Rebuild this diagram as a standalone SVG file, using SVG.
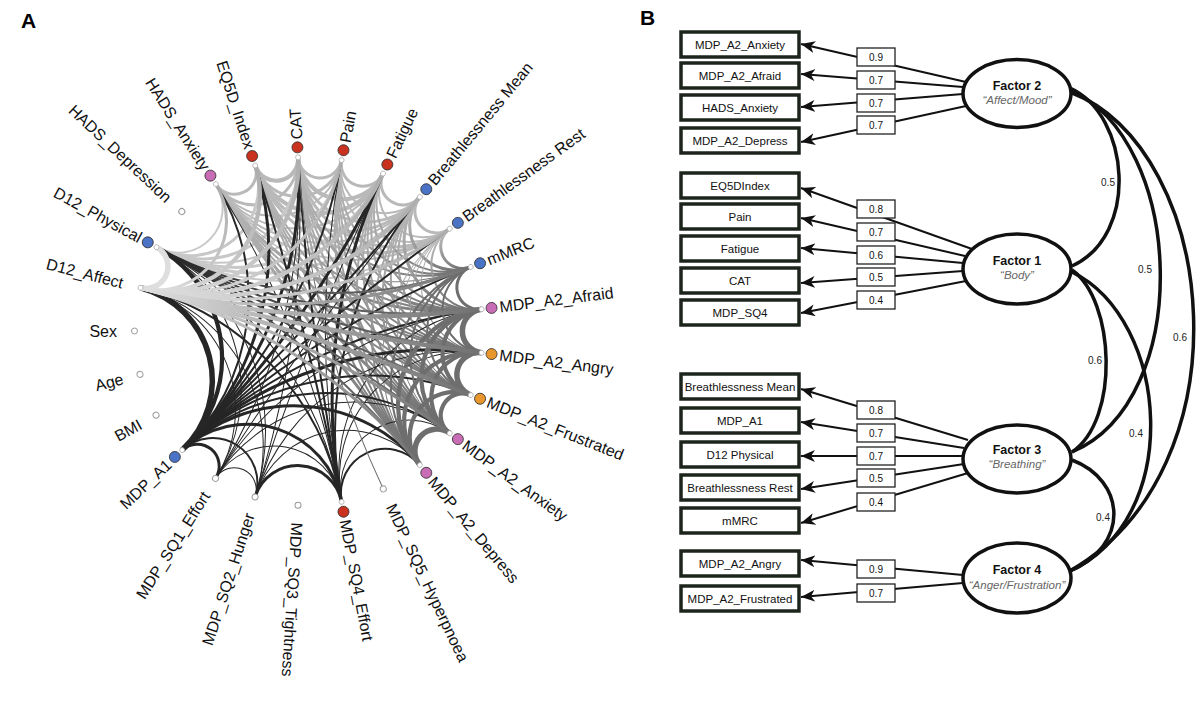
<svg xmlns="http://www.w3.org/2000/svg" width="1200" height="702" viewBox="0 0 1200 702">
<style>
.lbl{font-family:"Liberation Sans",Arial,sans-serif;font-size:16px;fill:#111;dominant-baseline:central}
.end{text-anchor:end}
.pl{font-family:"Liberation Sans",Arial,sans-serif;font-size:21px;font-weight:bold;fill:#000}
.anc{fill:#fff;stroke:#b0b0b0;stroke-width:0.8}
.hol{fill:#fff;stroke:#9a9a9a;stroke-width:1}
.dot{stroke:#333;stroke-width:0.8}
.red{fill:#c8321e}.blue{fill:#4a73c6}.pink{fill:#c96cb6}.orange{fill:#e8972c}
.w1{stroke-width:1}.w2{stroke-width:2}.w3{stroke-width:3}.w4{stroke-width:4.2}.w5{stroke-width:5.5}
.a{stroke:#262626}.b{stroke:#6e6e6e}.c{stroke:#b9b9b9}.c2{stroke:#c8c8c8}.d{stroke:#dedede}
.gCB{stroke:url(#gCB)}.gDC{stroke:url(#gDC)}.gDB{stroke:url(#gDB)}.gBD{stroke:url(#gBD)}.gKB{stroke:url(#gKB)}.gBK{stroke:url(#gBK)}
.box{fill:#fff;stroke:#1c241c;stroke-width:3.5}
.bt{font-family:"Liberation Sans",Arial,sans-serif;font-size:11.5px;text-anchor:middle;fill:#111}
.vb{fill:#fff;stroke:#222;stroke-width:1.3}
.vt{font-family:"Liberation Sans",Arial,sans-serif;font-size:10px;text-anchor:middle;fill:#111}
.ld{fill:none;stroke:#111;stroke-width:2;marker-end:url(#arr)}
.fac{fill:#fff;stroke:#111;stroke-width:3.5}
.ft{font-family:"Liberation Sans",Arial,sans-serif;font-size:12.5px;font-weight:bold;text-anchor:middle;fill:#111}
.fs{font-family:"Liberation Sans",Arial,sans-serif;font-size:11.5px;font-style:italic;text-anchor:middle;fill:#666}
.cor{fill:none;stroke:#111;stroke-width:3.5}
.ct{font-family:"Liberation Sans",Arial,sans-serif;font-size:10px;text-anchor:middle;fill:#222}
</style>
<defs>
<linearGradient id="gCB" x1="0" y1="0" x2="0" y2="1"><stop offset="0" stop-color="#bcbcbc"/><stop offset="1" stop-color="#6e6e6e"/></linearGradient>
<linearGradient id="gDC" x1="0" y1="0" x2="0" y2="1"><stop offset="0" stop-color="#e0e0e0"/><stop offset="1" stop-color="#adadad"/></linearGradient>
<linearGradient id="gDB" x1="0" y1="0" x2="0" y2="1"><stop offset="0" stop-color="#e0e0e0"/><stop offset="1" stop-color="#707070"/></linearGradient>
<linearGradient id="gBD" x1="0" y1="0" x2="0" y2="1"><stop offset="0" stop-color="#707070"/><stop offset="1" stop-color="#e0e0e0"/></linearGradient>
<linearGradient id="gKB" x1="0" y1="0" x2="0" y2="1"><stop offset="0" stop-color="#222"/><stop offset="1" stop-color="#808080"/></linearGradient>
<linearGradient id="gBK" x1="0" y1="0" x2="0" y2="1"><stop offset="0" stop-color="#808080"/><stop offset="1" stop-color="#222"/></linearGradient>
<path id="d1" fill="none" d="M172.63,-21.81 A21.98,21.98 0 0 0 172.63,21.81"/>
<path id="d2" fill="none" d="M168.53,-43.27 A44.68,44.68 0 0 0 168.53,43.27"/>
<path id="d3" fill="none" d="M161.78,-64.05 A68.89,68.89 0 0 0 161.78,64.05"/>
<path id="d4" fill="none" d="M152.48,-83.82 A95.66,95.66 0 0 0 152.48,83.82"/>
<path id="d5" fill="none" d="M140.77,-102.28 A126.42,126.42 0 0 0 140.77,102.28"/>
<path id="d6" fill="none" d="M126.84,-119.11 A163.4,163.4 0 0 0 126.84,119.11"/>
<path id="d7" fill="none" d="M110.91,-134.07 A210.33,210.33 0 0 0 110.91,134.07"/>
<path id="d8" fill="none" d="M93.23,-146.91 A274.18,274.18 0 0 0 93.23,146.91"/>
<path id="d9" fill="none" d="M74.09,-157.44 A369.77,369.77 0 0 0 74.09,157.44"/>
<path id="d10" fill="none" d="M53.77,-165.48 A535.52,535.52 0 0 0 53.77,165.48"/>
<path id="d11" fill="none" d="M32.6,-170.92 A912.14,912.14 0 0 0 32.6,170.92"/>
<path id="d12" fill="none" d="M10.93,-173.66 A2765.6,2765.6 0 0 0 10.93,173.66"/>
<marker id="arr" markerUnits="userSpaceOnUse" markerWidth="15" markerHeight="12" refX="14" refY="6" orient="auto"><path d="M0,0 L14,6 L0,12 L4,6 z" fill="#111"/></marker>
</defs>
<rect width="1200" height="702" fill="#fff"/>
<text class="pl" x="21" y="28">A</text>
<text class="pl" x="640" y="25">B</text>

<g id="edges" transform="translate(309 331)" fill="none">
<use href="#d1" transform="rotate(-115.2)" class="c w3"/>
<use href="#d1" transform="rotate(-100.8)" class="c w4"/>
<use href="#d1" transform="rotate(-86.4)" class="c w3"/>
<use href="#d1" transform="rotate(-72)" class="c w3"/>
<use href="#d1" transform="rotate(-57.6)" class="c w3"/>
<use href="#d1" transform="rotate(-43.2)" class="c w3"/>
<use href="#d2" transform="rotate(-108)" class="c w3"/>
<use href="#d2" transform="rotate(-93.6)" class="c w3"/>
<use href="#d2" transform="rotate(-79.2)" class="c w4"/>
<use href="#d2" transform="rotate(-64.8)" class="c w2"/>
<use href="#d2" transform="rotate(-50.4)" class="c w2"/>
<use href="#d3" transform="rotate(-100.8)" class="c w2"/>
<use href="#d3" transform="rotate(-86.4)" class="c w4"/>
<use href="#d3" transform="rotate(-72)" class="c w3"/>
<use href="#d3" transform="rotate(-57.6)" class="c w2"/>
<use href="#d4" transform="rotate(-93.6)" class="c w2"/>
<use href="#d4" transform="rotate(-79.2)" class="c w3"/>
<use href="#d4" transform="rotate(-64.8)" class="c w3"/>
<use href="#d5" transform="rotate(-86.4)" class="c w2"/>
<use href="#d5" transform="rotate(-72)" class="c w3"/>
<use href="#d6" transform="rotate(-79.2)" class="c w2"/>

<use href="#d2" transform="rotate(-136.8)" class="c2 w2"/>
<use href="#d3" transform="rotate(-129.6)" class="c2 w3"/>
<use href="#d4" transform="rotate(-122.4)" class="c2 w3"/>
<use href="#d5" transform="rotate(-115.2)" class="c2 w2"/>
<use href="#d6" transform="rotate(-108)" class="c2 w3"/>
<use href="#d7" transform="rotate(-100.8)" class="c2 w3"/>
<use href="#d8" transform="rotate(-93.6)" class="c2 w2"/>

<use href="#d1" transform="rotate(-28.8)" class="gCB w3"/>
<use href="#d2" transform="rotate(-36)" class="gCB w3"/>
<use href="#d3" transform="rotate(-43.2)" class="gCB w2"/>
<use href="#d4" transform="rotate(-50.4)" class="gCB w2"/>
<use href="#d5" transform="rotate(-57.6)" class="gCB w2"/>
<use href="#d7" transform="rotate(-72)" class="gCB w1"/>
<use href="#d2" transform="rotate(-21.6)" class="gCB w2"/>
<use href="#d3" transform="rotate(-28.8)" class="gCB w3"/>
<use href="#d4" transform="rotate(-36)" class="gCB w2"/>
<use href="#d5" transform="rotate(-43.2)" class="gCB w2"/>
<use href="#d6" transform="rotate(-50.4)" class="gCB w3"/>
<use href="#d7" transform="rotate(-57.6)" class="gCB w2"/>
<use href="#d8" transform="rotate(-64.8)" class="gCB w3"/>
<use href="#d3" transform="rotate(-14.4)" class="gCB w1"/>
<use href="#d4" transform="rotate(-21.6)" class="gCB w2"/>
<use href="#d5" transform="rotate(-28.8)" class="gCB w2"/>
<use href="#d6" transform="rotate(-36)" class="gCB w2"/>
<use href="#d7" transform="rotate(-43.2)" class="gCB w2"/>
<use href="#d8" transform="rotate(-50.4)" class="gCB w2"/>
<use href="#d9" transform="rotate(-57.6)" class="gCB w2"/>
<use href="#d4" transform="rotate(-7.2)" class="gCB w1"/>
<use href="#d5" transform="rotate(-14.4)" class="gCB w2"/>
<use href="#d6" transform="rotate(-21.6)" class="gCB w2"/>
<use href="#d7" transform="rotate(-28.8)" class="gCB w2"/>
<use href="#d8" transform="rotate(-36)" class="gCB w2"/>
<use href="#d9" transform="rotate(-43.2)" class="gCB w2"/>
<use href="#d10" transform="rotate(-50.4)" class="gCB w2"/>
<use href="#d5" transform="rotate(0)" class="gCB w1"/>
<use href="#d6" transform="rotate(-7.2)" class="gCB w2"/>
<use href="#d7" transform="rotate(-14.4)" class="gCB w2"/>
<use href="#d8" transform="rotate(-21.6)" class="gCB w2"/>
<use href="#d9" transform="rotate(-28.8)" class="gCB w2"/>
<use href="#d10" transform="rotate(-36)" class="gCB w2"/>
<use href="#d11" transform="rotate(-43.2)" class="gCB w3"/>
<use href="#d6" transform="rotate(7.2)" class="gCB w1"/>
<use href="#d7" transform="rotate(0)" class="gCB w2"/>
<use href="#d8" transform="rotate(-7.2)" class="gCB w2"/>
<use href="#d9" transform="rotate(-14.4)" class="gCB w2"/>
<use href="#d10" transform="rotate(-21.6)" class="gCB w2"/>
<use href="#d11" transform="rotate(-28.8)" class="gCB w2"/>
<use href="#d12" transform="rotate(-36)" class="gCB w3"/>

<use href="#d1" transform="rotate(129.6)" class="a w3"/>
<use href="#d2" transform="rotate(122.4)" class="a w2"/>
<use href="#d4" transform="rotate(108)" class="a w3"/>
<use href="#d1" transform="rotate(115.2)" class="a w1"/>
<use href="#d3" transform="rotate(100.8)" class="a w1"/>
<use href="#d2" transform="rotate(93.6)" class="a w3"/>
<use href="#d6" transform="rotate(93.6)" class="a w3"/>
<use href="#d7" transform="rotate(86.4)" class="a w2"/>
<use href="#d8" transform="rotate(79.2)" class="a w2"/>
<use href="#d9" transform="rotate(72)" class="a w3"/>
<use href="#d10" transform="rotate(64.8)" class="a w2"/>
<use href="#d11" transform="rotate(57.6)" class="a w2"/>
<use href="#d12" transform="rotate(50.4)" class="a w2"/>
<use href="#d12" transform="rotate(223.2)" class="a w2"/>
<use href="#d11" transform="rotate(216)" class="a w3"/>
<use href="#d10" transform="rotate(208.8)" class="a w2"/>
<use href="#d9" transform="rotate(201.6)" class="a w3"/>
<use href="#d8" transform="rotate(194.4)" class="a w3"/>
<use href="#d7" transform="rotate(187.2)" class="a w2"/>
<use href="#d5" transform="rotate(172.8)" class="a w4"/>
<use href="#d4" transform="rotate(165.6)" class="a w5"/>
<use href="#d2" transform="rotate(64.8)" class="a w2"/>
<use href="#d3" transform="rotate(57.6)" class="a w1"/>
<use href="#d5" transform="rotate(43.2)" class="a w1"/>
<use href="#d6" transform="rotate(36)" class="a w1"/>
<use href="#d9" transform="rotate(14.4)" class="a w2"/>
<use href="#d10" transform="rotate(7.2)" class="a w3"/>
<use href="#d11" transform="rotate(0)" class="a w1"/>
<use href="#d12" transform="rotate(-7.2)" class="a w2"/>
<use href="#d12" transform="rotate(165.6)" class="a w2"/>
<use href="#d11" transform="rotate(158.4)" class="a w1"/>
<use href="#d9" transform="rotate(144)" class="a w1"/>
<use href="#d8" transform="rotate(136.8)" class="a w2"/>
<use href="#d6" transform="rotate(79.2)" class="a w1"/>
<use href="#d9" transform="rotate(57.6)" class="a w1"/>
<use href="#d12" transform="rotate(36)" class="a w1"/>
<use href="#d10" transform="rotate(194.4)" class="a w1"/>
<use href="#d6" transform="rotate(165.6)" class="a w1"/>
<use href="#d5" transform="rotate(158.4)" class="a w1"/>
<use href="#d4" transform="rotate(79.2)" class="a w1"/>
<use href="#d7" transform="rotate(57.6)" class="a w1"/>
<use href="#d12" transform="rotate(21.6)" class="a w1"/>
<use href="#d11" transform="rotate(187.2)" class="a w1"/>
<use href="#d7" transform="rotate(158.4)" class="a w1"/>
<use href="#d6" transform="rotate(151.2)" class="a w1"/>
<use href="#d11" transform="rotate(-14.4)" class="b w1"/>

<use href="#d1" transform="rotate(-14.4)" class="b w3"/>
<use href="#d1" transform="rotate(0)" class="b w5"/>
<use href="#d1" transform="rotate(14.4)" class="b w5"/>
<use href="#d1" transform="rotate(28.8)" class="b w4"/>
<use href="#d1" transform="rotate(43.2)" class="b w5"/>
<use href="#d2" transform="rotate(-7.2)" class="b w2"/>
<use href="#d2" transform="rotate(7.2)" class="b w4"/>
<use href="#d2" transform="rotate(21.6)" class="b w4"/>
<use href="#d2" transform="rotate(36)" class="b w4"/>
<use href="#d3" transform="rotate(0)" class="b w2"/>
<use href="#d3" transform="rotate(14.4)" class="b w4"/>
<use href="#d3" transform="rotate(28.8)" class="b w4"/>
<use href="#d4" transform="rotate(7.2)" class="b w2"/>
<use href="#d4" transform="rotate(21.6)" class="b w4"/>
<use href="#d5" transform="rotate(14.4)" class="b w2"/>

<use href="#d9" transform="rotate(-86.4)" class="gKB w2"/>
<use href="#d10" transform="rotate(-79.2)" class="gKB w2"/>
<use href="#d11" transform="rotate(-72)" class="gKB w2"/>
<use href="#d12" transform="rotate(-64.8)" class="gKB w2"/>
<use href="#d12" transform="rotate(122.4)" class="gBK w2"/>
<use href="#d11" transform="rotate(129.6)" class="gBK w2"/>

<use href="#d3" transform="rotate(-144)" class="gDC w3"/>
<use href="#d4" transform="rotate(-136.8)" class="gDC w4"/>
<use href="#d5" transform="rotate(-129.6)" class="gDC w4"/>
<use href="#d6" transform="rotate(-122.4)" class="gDC w3"/>
<use href="#d7" transform="rotate(-115.2)" class="gDC w4"/>
<use href="#d8" transform="rotate(-108)" class="gDC w4"/>
<use href="#d9" transform="rotate(-100.8)" class="gDC w3"/>
<use href="#d10" transform="rotate(-93.6)" class="gDB w3"/>
<use href="#d11" transform="rotate(-86.4)" class="gDB w4"/>
<use href="#d12" transform="rotate(-79.2)" class="gDB w4"/>
<use href="#d12" transform="rotate(108)" class="gBD w4"/>
<use href="#d11" transform="rotate(115.2)" class="gBD w3"/>
<use href="#d10" transform="rotate(122.4)" class="gBD w3"/>
<use href="#d1" transform="rotate(-158.4)" class="d w5"/>
</g>

<g id="node-Sex" transform="translate(309 331) rotate(180)"><circle cx="174.5" r="3" class="hol"/><text class="lbl end" transform="rotate(180)" x="-192">Sex</text></g>
<g id="node-Age" transform="translate(309 331) rotate(165.6)"><circle cx="174.5" r="3" class="hol"/><text class="lbl end" transform="rotate(180)" x="-192">Age</text></g>
<g id="node-BMI" transform="translate(309 331) rotate(151.2)"><circle cx="174.5" r="3" class="hol"/><text class="lbl end" transform="rotate(180)" x="-192">BMI</text></g>
<g id="node-MDP_A1" transform="translate(309 331) rotate(136.8)"><circle cx="174" r="2.5" class="anc"/><circle cx="184" r="5.5" class="dot blue"/><text class="lbl end" transform="rotate(180)" x="-192">MDP_A1</text></g>
<g id="node-MDP_SQ1_Effort" transform="translate(309 331) rotate(122.4)"><circle cx="174.5" r="3" class="hol"/><text class="lbl end" transform="rotate(180)" x="-192">MDP_SQ1_Effort</text></g>
<g id="node-MDP_SQ2_Hunger" transform="translate(309 331) rotate(108)"><circle cx="174.5" r="3" class="hol"/><text class="lbl end" transform="rotate(180)" x="-192">MDP_SQ2_Hunger</text></g>
<g id="node-MDP_SQ3_Tightness" transform="translate(309 331) rotate(93.6)"><circle cx="174.5" r="3" class="hol"/><text class="lbl" x="192">MDP_SQ3_Tightness</text></g>
<g id="node-MDP_SQ4_Effort" transform="translate(309 331) rotate(79.2)"><circle cx="174" r="2.5" class="anc"/><circle cx="184" r="5.5" class="dot red"/><text class="lbl" x="192">MDP_SQ4_Effort</text></g>
<g id="node-MDP_SQ5_Hyperpnoea" transform="translate(309 331) rotate(64.8)"><circle cx="174.5" r="3" class="hol"/><text class="lbl" x="192">MDP_SQ5_Hyperpnoea</text></g>
<g id="node-MDP_A2_Depress" transform="translate(309 331) rotate(50.4)"><circle cx="174" r="2.5" class="anc"/><circle cx="184" r="5.5" class="dot pink"/><text class="lbl" x="192">MDP_A2_Depress</text></g>
<g id="node-MDP_A2_Anxiety" transform="translate(309 331) rotate(36)"><circle cx="174" r="2.5" class="anc"/><circle cx="184" r="5.5" class="dot pink"/><text class="lbl" x="192">MDP_A2_Anxiety</text></g>
<g id="node-MDP_A2_Frustrated" transform="translate(309 331) rotate(21.6)"><circle cx="174" r="2.5" class="anc"/><circle cx="184" r="5.5" class="dot orange"/><text class="lbl" x="192">MDP_A2_Frustrated</text></g>
<g id="node-MDP_A2_Angry" transform="translate(309 331) rotate(7.2)"><circle cx="174" r="2.5" class="anc"/><circle cx="184" r="5.5" class="dot orange"/><text class="lbl" x="192">MDP_A2_Angry</text></g>
<g id="node-MDP_A2_Afraid" transform="translate(309 331) rotate(-7.2)"><circle cx="174" r="2.5" class="anc"/><circle cx="184" r="5.5" class="dot pink"/><text class="lbl" x="192">MDP_A2_Afraid</text></g>
<g id="node-mMRC" transform="translate(309 331) rotate(-21.6)"><circle cx="174" r="2.5" class="anc"/><circle cx="184" r="5.5" class="dot blue"/><text class="lbl" x="192">mMRC</text></g>
<g id="node-Breathlessness_Rest" transform="translate(309 331) rotate(-36)"><circle cx="174" r="2.5" class="anc"/><circle cx="184" r="5.5" class="dot blue"/><text class="lbl" x="192">Breathlessness Rest</text></g>
<g id="node-Breathlessness_Mean" transform="translate(309 331) rotate(-50.4)"><circle cx="174" r="2.5" class="anc"/><circle cx="184" r="5.5" class="dot blue"/><text class="lbl" x="192">Breathlessness Mean</text></g>
<g id="node-Fatigue" transform="translate(309 331) rotate(-64.8)"><circle cx="174" r="2.5" class="anc"/><circle cx="184" r="5.5" class="dot red"/><text class="lbl" x="192">Fatigue</text></g>
<g id="node-Pain" transform="translate(309 331) rotate(-79.2)"><circle cx="174" r="2.5" class="anc"/><circle cx="184" r="5.5" class="dot red"/><text class="lbl" x="192">Pain</text></g>
<g id="node-CAT" transform="translate(309 331) rotate(-93.6)"><circle cx="174" r="2.5" class="anc"/><circle cx="184" r="5.5" class="dot red"/><text class="lbl" x="192">CAT</text></g>
<g id="node-EQ5D_Index" transform="translate(309 331) rotate(-108)"><circle cx="174" r="2.5" class="anc"/><circle cx="184" r="5.5" class="dot red"/><text class="lbl end" transform="rotate(180)" x="-192">EQ5D_Index</text></g>
<g id="node-HADS_Anxiety" transform="translate(309 331) rotate(-122.4)"><circle cx="174" r="2.5" class="anc"/><circle cx="184" r="5.5" class="dot pink"/><text class="lbl end" transform="rotate(180)" x="-192">HADS_Anxiety</text></g>
<g id="node-HADS_Depression" transform="translate(309 331) rotate(-136.8)"><circle cx="174.5" r="3" class="hol"/><text class="lbl end" transform="rotate(180)" x="-192">HADS_Depression</text></g>
<g id="node-D12_Physical" transform="translate(309 331) rotate(-151.2)"><circle cx="174" r="2.5" class="anc"/><circle cx="184" r="5.5" class="dot blue"/><text class="lbl end" transform="rotate(180)" x="-192">D12_Physical</text></g>
<g id="node-D12_Affect" transform="translate(309 331) rotate(-165.6)"><circle cx="174" r="2.5" class="anc"/><text class="lbl end" transform="rotate(180)" x="-192">D12_Affect</text></g>

<g id="loadings">
<path class="ld" d="M966,82 L801,44"/>
<path class="ld" d="M963,87 L801,74"/>
<path class="ld" d="M963,94 L801,107"/>
<path class="ld" d="M966,106 L801,142"/>
<path class="ld" d="M972,249 L801,188"/>
<path class="ld" d="M965,256 L801,218"/>
<path class="ld" d="M963,263 L801,248"/>
<path class="ld" d="M963,271 L801,283"/>
<path class="ld" d="M966,281 L801,313"/>
<path class="ld" d="M968,440 L801,389"/>
<path class="ld" d="M964,448 L801,422"/>
<path class="ld" d="M963,456 L801,456"/>
<path class="ld" d="M964,464 L801,489"/>
<path class="ld" d="M968,473 L801,523"/>
<path class="ld" d="M963,575 L801,560"/>
<path class="ld" d="M963,583 L801,597"/>
</g>
<g id="correlations">
<path class="cor" d="M1070,88 C1130,115 1140,235 1072,266"/>
<path class="cor" d="M1070,90 C1185,140 1195,400 1072,452"/>
<path class="cor" d="M1070,92 C1220,150 1250,470 1068,572"/>
<path class="cor" d="M1072,270 C1115,300 1120,420 1072,452"/>
<path class="cor" d="M1072,272 C1170,320 1185,520 1068,572"/>
<path class="cor" d="M1072,460 C1125,480 1132,545 1068,572"/>
<text class="ct" x="1108" y="186">0.5</text>
<text class="ct" x="1145" y="273">0.5</text>
<text class="ct" x="1180" y="341">0.6</text>
<text class="ct" x="1095" y="364">0.6</text>
<text class="ct" x="1136" y="437">0.4</text>
<text class="ct" x="1103" y="521">0.4</text>
</g>

<g id="box-MDP_A2_Anxiety"><rect class="box" x="681" y="32" width="118" height="25"/><text class="bt" x="740" y="49">MDP_A2_Anxiety</text></g>
<g id="box-MDP_A2_Afraid"><rect class="box" x="681" y="63" width="118" height="25"/><text class="bt" x="740" y="80">MDP_A2_Afraid</text></g>
<g id="box-HADS_Anxiety"><rect class="box" x="681" y="95" width="118" height="25"/><text class="bt" x="740" y="112">HADS_Anxiety</text></g>
<g id="box-MDP_A2_Depress"><rect class="box" x="681" y="128" width="118" height="25"/><text class="bt" x="740" y="145">MDP_A2_Depress</text></g>
<g id="box-EQ5DIndex"><rect class="box" x="681" y="173" width="118" height="25"/><text class="bt" x="740" y="190">EQ5DIndex</text></g>
<g id="box-Pain"><rect class="box" x="681" y="204" width="118" height="25"/><text class="bt" x="740" y="221">Pain</text></g>
<g id="box-Fatigue"><rect class="box" x="681" y="236" width="118" height="25"/><text class="bt" x="740" y="253">Fatigue</text></g>
<g id="box-CAT"><rect class="box" x="681" y="268" width="118" height="25"/><text class="bt" x="740" y="285">CAT</text></g>
<g id="box-MDP_SQ4"><rect class="box" x="681" y="300" width="118" height="25"/><text class="bt" x="740" y="317">MDP_SQ4</text></g>
<g id="box-Breathlessness_Mean"><rect class="box" x="681" y="374" width="118" height="25"/><text class="bt" x="740" y="391">Breathlessness Mean</text></g>
<g id="box-MDP_A1"><rect class="box" x="681" y="408" width="118" height="25"/><text class="bt" x="740" y="425">MDP_A1</text></g>
<g id="box-D12_Physical"><rect class="box" x="681" y="442" width="118" height="25"/><text class="bt" x="740" y="459">D12 Physical</text></g>
<g id="box-Breathlessness_Rest"><rect class="box" x="681" y="475" width="118" height="25"/><text class="bt" x="740" y="492">Breathlessness Rest</text></g>
<g id="box-mMRC"><rect class="box" x="681" y="508" width="118" height="25"/><text class="bt" x="740" y="525">mMRC</text></g>
<g id="box-MDP_A2_Angry"><rect class="box" x="681" y="551" width="118" height="25"/><text class="bt" x="740" y="568">MDP_A2_Angry</text></g>
<g id="box-MDP_A2_Frustrated"><rect class="box" x="681" y="586" width="118" height="25"/><text class="bt" x="740" y="603">MDP_A2_Frustrated</text></g>

<g id="values">
<rect class="vb" x="857" y="48" width="38" height="18"/><text class="vt" x="876" y="61">0.9</text>
<rect class="vb" x="857" y="71" width="38" height="18"/><text class="vt" x="876" y="84">0.7</text>
<rect class="vb" x="857" y="94" width="38" height="18"/><text class="vt" x="876" y="107">0.7</text>
<rect class="vb" x="857" y="116" width="38" height="18"/><text class="vt" x="876" y="129">0.7</text>
<rect class="vb" x="857" y="200" width="38" height="18"/><text class="vt" x="876" y="213">0.8</text>
<rect class="vb" x="857" y="223" width="38" height="18"/><text class="vt" x="876" y="236">0.7</text>
<rect class="vb" x="857" y="246" width="38" height="18"/><text class="vt" x="876" y="259">0.6</text>
<rect class="vb" x="857" y="268" width="38" height="18"/><text class="vt" x="876" y="281">0.5</text>
<rect class="vb" x="857" y="291" width="38" height="18"/><text class="vt" x="876" y="304">0.4</text>
<rect class="vb" x="857" y="401" width="38" height="18"/><text class="vt" x="876" y="414">0.8</text>
<rect class="vb" x="857" y="424" width="38" height="18"/><text class="vt" x="876" y="437">0.7</text>
<rect class="vb" x="857" y="447" width="38" height="18"/><text class="vt" x="876" y="460">0.7</text>
<rect class="vb" x="857" y="469" width="38" height="18"/><text class="vt" x="876" y="482">0.5</text>
<rect class="vb" x="857" y="493" width="38" height="18"/><text class="vt" x="876" y="506">0.4</text>
<rect class="vb" x="857" y="560" width="38" height="18"/><text class="vt" x="876" y="573">0.9</text>
<rect class="vb" x="857" y="584" width="38" height="18"/><text class="vt" x="876" y="597">0.7</text>
</g>

<g id="factor2"><ellipse class="fac" cx="1017" cy="93.5" rx="54" ry="34"/><text class="ft" x="1017" y="90">Factor 2</text><text class="fs" x="1017" y="104">“Affect/Mood”</text></g>
<g id="factor1"><ellipse class="fac" cx="1017" cy="269" rx="54" ry="35"/><text class="ft" x="1017" y="265">Factor 1</text><text class="fs" x="1017" y="279">“Body”</text></g>
<g id="factor3"><ellipse class="fac" cx="1017" cy="459" rx="54" ry="34"/><text class="ft" x="1017" y="454">Factor 3</text><text class="fs" x="1017" y="468">“Breathing”</text></g>
<g id="factor4"><ellipse class="fac" cx="1017" cy="578" rx="54" ry="35"/><text class="ft" x="1017" y="574">Factor 4</text><text class="fs" x="1017" y="589">“Anger/Frustration”</text></g>
</svg>
